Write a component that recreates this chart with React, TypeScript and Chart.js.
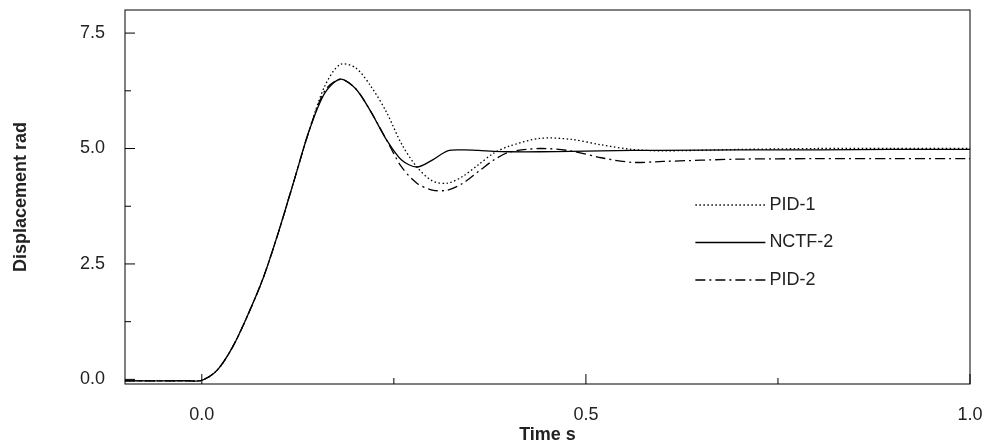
import React, { useEffect, useRef } from "react";
import { Chart, registerables } from "chart.js";

Chart.register(...registerables);

const timeValues = [-0.1, -0.02, 0, 0.02, 0.04, 0.06, 0.08, 0.1, 0.12, 0.14, 0.16, 0.18, 0.2, 0.22, 0.24, 0.26, 0.28, 0.3, 0.32, 0.34, 0.36, 0.38, 0.4, 0.44, 0.48, 0.52, 0.56, 0.6, 0.7, 0.8, 0.9, 1.0];
const pid1 = [-0.03, -0.03, -0.02, 0.2, 0.7, 1.4, 2.2, 3.2, 4.3, 5.4, 6.35, 6.82, 6.75, 6.35, 5.8, 5.1, 4.6, 4.3, 4.25, 4.4, 4.65, 4.9, 5.05, 5.22, 5.2, 5.08, 4.98, 4.95, 4.98, 5.0, 5.0, 5.0];
const nctf2 = [-0.03, -0.03, -0.02, 0.2, 0.7, 1.4, 2.2, 3.2, 4.3, 5.4, 6.2, 6.5, 6.3, 5.8, 5.2, 4.75, 4.6, 4.75, 4.95, 4.97, 4.96, 4.94, 4.93, 4.93, 4.94, 4.95, 4.96, 4.96, 4.97, 4.97, 4.98, 4.98];
const pid2 = [-0.03, -0.03, -0.02, 0.2, 0.7, 1.4, 2.2, 3.2, 4.3, 5.4, 6.25, 6.5, 6.3, 5.8, 5.2, 4.6, 4.25, 4.1, 4.1, 4.25, 4.5, 4.75, 4.92, 5.0, 4.95, 4.8, 4.7, 4.72, 4.77, 4.78, 4.78, 4.78];
const xMajor = [0, 0.5, 1.0];
const xMinor = [0.25, 0.75];
const yMajor = [0, 2.5, 5.0, 7.5];
const yMinor = [1.25, 3.75, 6.25];

const FONT = "Liberation Sans, Arial, sans-serif";

const framePlugin = {
  id: "frame",
  afterDraw(chart: any) {
    const { ctx, chartArea: a, scales } = chart;
    ctx.save();
    ctx.strokeStyle = "#000";
    ctx.lineWidth = 1;
    ctx.setLineDash([]);
    ctx.strokeRect(a.left, a.top, a.right - a.left, a.bottom - a.top);
    ctx.beginPath();
    xMajor.forEach((v) => { const p = scales.x.getPixelForValue(v); ctx.moveTo(p, a.bottom); ctx.lineTo(p, a.bottom - 10); });
    xMinor.forEach((v) => { const p = scales.x.getPixelForValue(v); ctx.moveTo(p, a.bottom); ctx.lineTo(p, a.bottom - 6); });
    yMajor.forEach((v) => { const p = scales.y.getPixelForValue(v); ctx.moveTo(a.left, p); ctx.lineTo(a.left + 10, p); });
    yMinor.forEach((v) => { const p = scales.y.getPixelForValue(v); ctx.moveTo(a.left, p); ctx.lineTo(a.left + 6, p); });
    ctx.stroke();
    // legend
    ctx.font = `18px ${FONT}`;
    ctx.fillStyle = "#222";
    ctx.textBaseline = "middle";
    const lx = a.left + (a.right - a.left) * 0.675;
    chart.data.datasets.forEach((ds: any, i: number) => {
      const ly = a.top + 195 + i * 37.5;
      ctx.beginPath();
      ctx.setLineDash(ds.borderDash || []);
      ctx.lineWidth = ds.borderWidth;
      ctx.moveTo(lx, ly);
      ctx.lineTo(lx + 70, ly);
      ctx.stroke();
      ctx.setLineDash([]);
      ctx.fillText(ds.label, lx + 74, ly);
    });
    ctx.restore();
  },
};

export default function App() {
  const canvasRef = useRef<HTMLCanvasElement>(null);

  useEffect(() => {
    document.body.style.margin = "0";
    if (!canvasRef.current) return;
    const line = (label: string, data: number[], dash: number[]) => ({
      label,
      data: timeValues.map((t, i) => ({ x: t, y: data[i] })),
      borderColor: "#000",
      borderWidth: 1.3,
      borderDash: dash,
      pointRadius: 0,
      tension: 0.3,
      fill: false,
    });
    const chart = new Chart(canvasRef.current, {
      type: "line",
      data: {
        datasets: [
          line("PID-1", pid1, [1.5, 2.5]),
          line("NCTF-2", nctf2, []),
          line("PID-2", pid2, [10, 4, 2, 4]),
        ],
      },
      options: {
        animation: false,
        responsive: false,
        layout: { padding: { top: 10, right: 17, left: 0, bottom: 0 } },
        plugins: { legend: { display: false }, tooltip: { enabled: false } },
        scales: {
          x: {
            type: "linear",
            min: -0.1,
            max: 1.0,
            afterBuildTicks: (s: any) => { s.ticks = xMajor.map((v) => ({ value: v })); },
            afterFit: (s: any) => { s.height = 62; s.paddingLeft = 0; s.paddingRight = 0; },
            grid: { display: false },
            border: { display: false },
            ticks: { color: "#222", font: { family: FONT, size: 18 }, padding: 12, callback: (v: any) => Number(v).toFixed(1) },
            title: { display: true, text: "Time s", color: "#222", font: { family: FONT, size: 18, weight: "bold" }, padding: 0 },
          },
          y: {
            min: -0.1,
            max: 8.0,
            afterBuildTicks: (s: any) => { s.ticks = yMajor.map((v) => ({ value: v })); },
            afterFit: (s: any) => { s.width = 125; s.paddingTop = 0; s.paddingBottom = 0; },
            grid: { display: false },
            border: { display: false },
            ticks: { color: "#222", font: { family: FONT, size: 18 }, padding: 12, callback: (v: any) => Number(v).toFixed(1) },
            title: { display: true, text: "Displacement rad", color: "#222", font: { family: FONT, size: 18, weight: "bold" }, padding: { top: 10, bottom: 2 } },
          },
        },
      },
      plugins: [framePlugin],
    } as any);
    return () => chart.destroy();
  }, []);

  return <canvas ref={canvasRef} width={987} height={446} style={{ display: "block" }} />;
}
